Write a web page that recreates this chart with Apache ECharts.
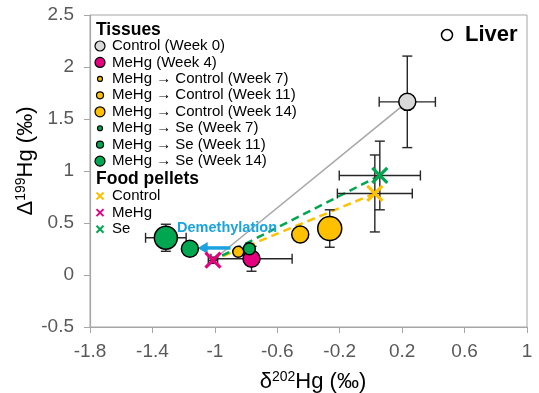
<!DOCTYPE html>
<html><head><meta charset="utf-8">
<script src="https://cdn.jsdelivr.net/npm/echarts@6/dist/echarts.min.js"></script>
<style>html,body{margin:0;padding:0;background:#fff}#c{width:539px;height:393px}</style>
</head><body><div id="c"></div>
<script>
// ---------------- DATA ----------------
const xTickValues = [-1.8, -1.4, -1, -0.6, -0.2, 0.2, 0.6, 1];
const yTickValues = [-0.5, 0, 0.5, 1, 1.5, 2, 2.5];

const tissueNames = ['Control (Week 0)', 'MeHg (Week 4)', 'MeHg \u2192 Control (Week 7)', 'MeHg \u2192 Control (Week 11)',
  'MeHg \u2192 Control (Week 14)', 'MeHg \u2192 Se (Week 7)', 'MeHg \u2192 Se (Week 11)', 'MeHg \u2192 Se (Week 14)'];
const tissueX    = [0.233, -0.765, -0.85, -0.453, -0.264, -0.779, -1.16, -1.314];
const tissueY    = [1.665, 0.156, 0.223, 0.389, 0.447, 0.252, 0.252, 0.358];
const tissueXErr = [0.18, 0.26, 0, 0, 0, 0, 0, 0.13];
const tissueYErr = [0.44, 0.12, 0, 0, 0.18, 0, 0, 0.13];

const pelletNames = ['Control', 'MeHg', 'Se'];
const pelletX    = [0.025, -1.012, 0.057];
const pelletY    = [0.784, 0.142, 0.957];
const pelletXErr = [0.24, 0.03, 0.26];
const pelletYErr = [0.37, 0.03, 0.33];

const arrowFrom = [-0.9, 0.26];
const arrowTo   = [-1.11, 0.26];
const demethLabelAt = [-0.922, 0.45];

// ---------------- STYLES ----------------
const FONT = "'Liberation Sans', Arial, sans-serif";
const GRAY = '#d9d9d9', PINK = '#e4007f', YEL = '#ffc000', GRN = '#00a650', BLUE = '#1aa3df';
const tissueColors = [GRAY, PINK, YEL, YEL, YEL, GRN, GRN, GRN];
const tissueSizes  = [17, 17, 11, 17, 24, 12, 17, 23];
const legendSizes  = [10, 10, 5, 7, 10, 5, 7, 10];
const pelletColors = [YEL, PINK, GRN];

function errItem(xs, ys, exs, eys) {
  return xs.map((x, i) => [x, ys[i], exs[i], eys[i]]);
}
function renderErr(params, api) {
  const x = api.value(0), y = api.value(1), ex = api.value(2), ey = api.value(3);
  const st = { stroke: '#262626', lineWidth: 1.4 };
  const cap = 5;
  const ch = [];
  if (ex > 0) {
    const l = api.coord([x - ex, y]), r = api.coord([x + ex, y]);
    ch.push({ type: 'line', shape: { x1: l[0], y1: l[1], x2: r[0], y2: r[1] }, style: st });
    ch.push({ type: 'line', shape: { x1: l[0], y1: l[1] - cap, x2: l[0], y2: l[1] + cap }, style: st });
    ch.push({ type: 'line', shape: { x1: r[0], y1: r[1] - cap, x2: r[0], y2: r[1] + cap }, style: st });
  }
  if (ey > 0) {
    const t = api.coord([x, y + ey]), b = api.coord([x, y - ey]);
    ch.push({ type: 'line', shape: { x1: t[0], y1: t[1], x2: b[0], y2: b[1] }, style: st });
    ch.push({ type: 'line', shape: { x1: t[0] - cap, y1: t[1], x2: t[0] + cap, y2: t[1] }, style: st });
    ch.push({ type: 'line', shape: { x1: b[0] - cap, y1: b[1], x2: b[0] + cap, y2: b[1] }, style: st });
  }
  return { type: 'group', children: ch };
}
function renderCross(params, api) {
  const c = api.coord([api.value(0), api.value(1)]);
  const h = 7.5;
  const st = { stroke: pelletColors[params.dataIndex], lineWidth: 3.2 };
  return { type: 'group', children: [
    { type: 'line', shape: { x1: c[0] - h, y1: c[1] - h, x2: c[0] + h, y2: c[1] + h }, style: st },
    { type: 'line', shape: { x1: c[0] - h, y1: c[1] + h, x2: c[0] + h, y2: c[1] - h }, style: st }
  ]};
}
function renderArrow(params, api) {
  const a = api.coord([api.value(0), api.value(1)]);
  const b = api.coord([api.value(2), api.value(3)]);
  const t = api.coord(demethLabelAt);
  const head = 10, hw = 6;
  return { type: 'group', children: [
    { type: 'line', shape: { x1: a[0], y1: a[1], x2: b[0] + head - 1, y2: b[1] }, style: { stroke: BLUE, lineWidth: 3.5 } },
    { type: 'polygon', shape: { points: [[b[0], b[1]], [b[0] + head, b[1] - hw], [b[0] + head, b[1] + hw]] }, style: { fill: BLUE } },
    { type: 'text', x: t[0], y: t[1], style: { text: 'Demethylation', fill: BLUE, font: 'bold 14.5px ' + FONT, align: 'center', verticalAlign: 'middle' } }
  ]};
}

// legend graphic
const legendEls = [];
const LX = 100, TX = 112;
legendEls.push({ type: 'text', x: 96, y: 30, style: { text: 'Tissues', font: 'bold 17.5px ' + FONT, fill: '#000', verticalAlign: 'middle' } });
tissueNames.forEach((n, i) => {
  const y = 46 + i * 16.45;
  legendEls.push({ type: 'circle', shape: { cx: LX, cy: y, r: legendSizes[i] / 2 }, style: { fill: tissueColors[i], stroke: '#000', lineWidth: 1.2 } });
  legendEls.push({ type: 'text', x: TX, y: y, style: { text: n, font: '15px ' + FONT, fill: '#000', verticalAlign: 'middle' } });
});
legendEls.push({ type: 'text', x: 96, y: 179, style: { text: 'Food pellets', font: 'bold 17.5px ' + FONT, fill: '#000', verticalAlign: 'middle' } });
pelletNames.forEach((n, i) => {
  const y = 196 + i * 16.6, h = 3.5;
  legendEls.push({ type: 'line', shape: { x1: LX - h, y1: y - h, x2: LX + h, y2: y + h }, style: { stroke: pelletColors[i], lineWidth: 2 } });
  legendEls.push({ type: 'line', shape: { x1: LX - h, y1: y + h, x2: LX + h, y2: y - h }, style: { stroke: pelletColors[i], lineWidth: 2 } });
  legendEls.push({ type: 'text', x: TX, y: y, style: { text: n, font: '15px ' + FONT, fill: '#000', verticalAlign: 'middle' } });
});
// Liver tag
legendEls.push({ type: 'circle', shape: { cx: 447, cy: 35, r: 5.5 }, style: { fill: '#fff', stroke: '#000', lineWidth: 1.5 } });
legendEls.push({ type: 'text', x: 465, y: 35, style: { text: 'Liver', font: 'bold 22px ' + FONT, fill: '#000', verticalAlign: 'middle' } });
// axis titles
const titleRich = { a: { fontSize: 22, fontFamily: FONT, color: '#262626' }, s: { fontSize: 14, fontFamily: FONT, color: '#262626', padding: [0, 0, 9, 0] } };
legendEls.push({ type: 'text', x: 313, y: 382, style: { text: '{a|\u03b4}{s|202}{a|Hg (\u2030)}', rich: titleRich, align: 'center', verticalAlign: 'middle' } });
legendEls.push({ type: 'text', x: 26, y: 161, rotation: Math.PI / 2, style: { text: '{a|\u0394}{s|199}{a|Hg (\u2030)}', rich: titleRich, align: 'center', verticalAlign: 'middle' } });

const axisColor = '#a6a6a6';
const option = {
  animation: false,
  backgroundColor: '#fff',
  grid: { left: 90, right: 12, top: 15, bottom: 66, show: true, borderColor: axisColor, borderWidth: 1 },
  xAxis: {
    type: 'value', min: -1.8, max: 1,
    axisLine: { show: true, onZero: false, lineStyle: { color: axisColor, width: 1.2 } },
    axisTick: { show: true, length: 6, customValues: xTickValues, lineStyle: { color: axisColor } },
    axisLabel: { customValues: xTickValues, color: '#595959', fontSize: 19, fontFamily: FONT, margin: 15 },
    splitLine: { show: false }
  },
  yAxis: {
    type: 'value', min: -0.5, max: 2.5, interval: 0.5,
    axisLine: { show: true, onZero: false, lineStyle: { color: axisColor, width: 1.2 } },
    axisTick: { show: true, length: 6, lineStyle: { color: axisColor } },
    axisLabel: { color: '#595959', fontSize: 19, fontFamily: FONT, margin: 16 },
    splitLine: { show: false }
  },
  graphic: legendEls,
  series: [
    { type: 'line', z: 1, symbol: 'none', silent: true,
      data: [[tissueX[0], tissueY[0]], [pelletX[1], pelletY[1]]],
      lineStyle: { color: '#a6a6a6', width: 1.5 } },
    { type: 'line', z: 1, symbol: 'none', silent: true,
      data: [[pelletX[0], pelletY[0]], [pelletX[1], pelletY[1]]],
      lineStyle: { color: YEL, width: 2.5, type: [8, 5] } },
    { type: 'line', z: 1, symbol: 'none', silent: true,
      data: [[pelletX[2], pelletY[2]], [pelletX[1], pelletY[1]]],
      lineStyle: { color: GRN, width: 2.5, type: [8, 5] } },
    { type: 'custom', z: 2, renderItem: renderArrow, encode: { x: [0, 2], y: [1, 3] },
      data: [[arrowFrom[0], arrowFrom[1], arrowTo[0], arrowTo[1]]] },
    { type: 'custom', z: 3, renderItem: renderErr, encode: { x: 0, y: 1 },
      data: errItem(pelletX, pelletY, pelletXErr, pelletYErr) },
    { type: 'custom', z: 3, renderItem: renderErr, encode: { x: 0, y: 1 },
      data: errItem(tissueX, tissueY, tissueXErr, tissueYErr) },
    { type: 'scatter', z: 4,
      data: tissueX.map((x, i) => ({ name: tissueNames[i], value: [x, tissueY[i]], symbolSize: tissueSizes[i],
        itemStyle: { color: tissueColors[i], borderColor: '#000', borderWidth: 1.5, opacity: 1 } })) },
    { type: 'custom', z: 5, renderItem: renderCross, encode: { x: 0, y: 1 },
      data: pelletX.map((x, i) => [x, pelletY[i]]) }
  ]
};
echarts.init(document.getElementById('c'), null, { renderer: 'canvas' }).setOption(option);
</script>
</body></html>
